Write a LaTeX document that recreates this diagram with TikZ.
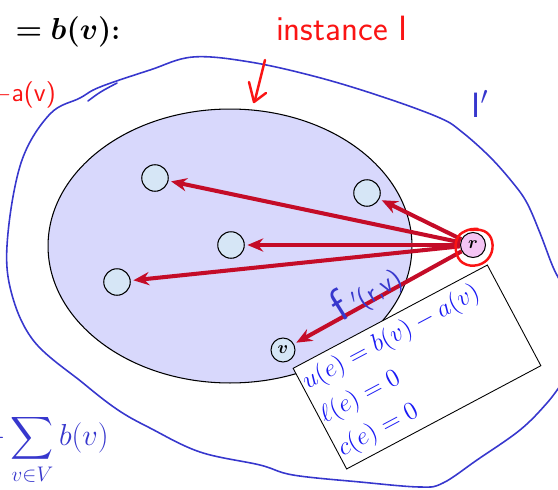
\documentclass[tikz,border=0pt]{standalone}
\usepackage{amsmath}
\usepackage{amssymb}
\usepackage{bm}
\usepackage{tikz}
\usepackage{xcolor}
\usetikzlibrary{arrows.meta,shapes.geometric}

\definecolor{instfill}{RGB}{216,216,252}
\definecolor{vertfill}{RGB}{214,230,246}
\definecolor{rootfill}{RGB}{244,196,244}
\definecolor{flowred}{RGB}{196,12,40}
\definecolor{penred}{RGB}{250,20,20}
\definecolor{penblue}{RGB}{55,55,205}
\definecolor{eqblue}{RGB}{25,25,245}

\begin{document}
\begin{tikzpicture}[x=0.02cm,y=-0.02cm,
  vert/.style={circle,draw,fill=vertfill,minimum size=0.53cm,inner sep=0pt,line width=0.6pt},
  flow/.style={flowred,line width=2.3pt,shorten >=1.5pt,-{Stealth[length=9pt,width=7.5pt]}},
  bluepen/.style={penblue,line width=0.9pt,line cap=round,line join=round},
  redpen/.style={penred,line width=1.4pt,line cap=round,line join=round},
  handtext/.style={font=\sffamily\fontsize{20}{20}\selectfont}]
  \useasboundingbox (0,0) rectangle (558,490);

  % outer instance I'
  \draw[bluepen] plot[smooth,tension=0.6] coordinates {(562,284) (553,267) (540,233) (527,203)
    (513,183) (490,157) (462,132) (440,118) (383,97) (317,77) (250,62) (193,57) (150,70)
    (100,87) (80,98) (50,114) (22,160) (8,233) (10,287) (33,340) (83,383) (118,410) (150,428)
    (200,452) (260,465) (293,475) (360,482) (420,487) (443,483) (477,460) (520,430) (547,403) (562,383)};
  \draw[bluepen] (88,101) .. controls (100,92) .. (117,83);

  % instance I
  \node[ellipse,draw,fill=instfill,line width=0.6pt,minimum width=7.28cm,minimum height=5.48cm] (inst) at (230,246) {};

  \node[vert] (n1) at (155,178) {};
  \node[vert] (n2) at (367,193) {};
  \node[vert] (n3) at (231,245) {};
  \node[vert] (n4) at (117,282) {};
  \node[vert,minimum size=0.48cm] (v) at (283,350) {$\bm{v}$};
  \node[vert,fill=rootfill,minimum size=0.5cm] (r) at (473,245) {$\bm{r}$};

  \draw[flow] (r) -- (n1);
  \draw[flow] (r) -- (n2);
  \draw[flow] (r) -- (n3);
  \draw[flow] (r) -- (n4);
  \draw[flow] (r) -- (v);

  \draw[redpen] plot[smooth,tension=0.7] coordinates {(470,230) (484,231) (492,241) (490,256)
    (478,265) (463,263) (456,251) (458,237) (468,230) (478,229)};

  \node[draw,fill=white,rotate=28,line width=0.5pt,minimum width=4.4cm,minimum height=2.28cm,
    text width=4.3cm,inner xsep=0.05cm,align=left,text=eqblue,
    font=\fontsize{14.4}{21.5}\selectfont] (box) at (417,367)
    {\mbox{$u(e)=b(v)-a(v)$}\\ $\ell(e)=0$\\ $c(e)=0$};

  % text
  \node (head) at (68,32) {\fontsize{16}{16}\selectfont ${\bm=}\;\bm{b(v)}$\textbf{:}};
  \node[handtext,text=penred] (lab) at (342,28) {instance I};
  \draw[redpen] (265,60) -- (255,100);
  \draw[redpen] (249,82) -- (254,102) -- (266,93);
  \node[handtext,text=penred,anchor=east,font=\sffamily\fontsize{15}{15}\selectfont] (ma) at (62,95) {$-$a(v)};
  \node[handtext,text=penblue] (iprime) at (480,104) {I$'$};
  \node[text=penblue,rotate=32,font=\sffamily] (fl) at (366,292) {\fontsize{26}{26}\selectfont f\,\fontsize{15}{15}\selectfont$'$(r,v)};
  \node[text=penblue,anchor=west,font=\fontsize{17}{17}\selectfont] (sum) at (-24,450) {$\displaystyle-\sum_{v\in V} b(v)$};
\end{tikzpicture}
\end{document}
